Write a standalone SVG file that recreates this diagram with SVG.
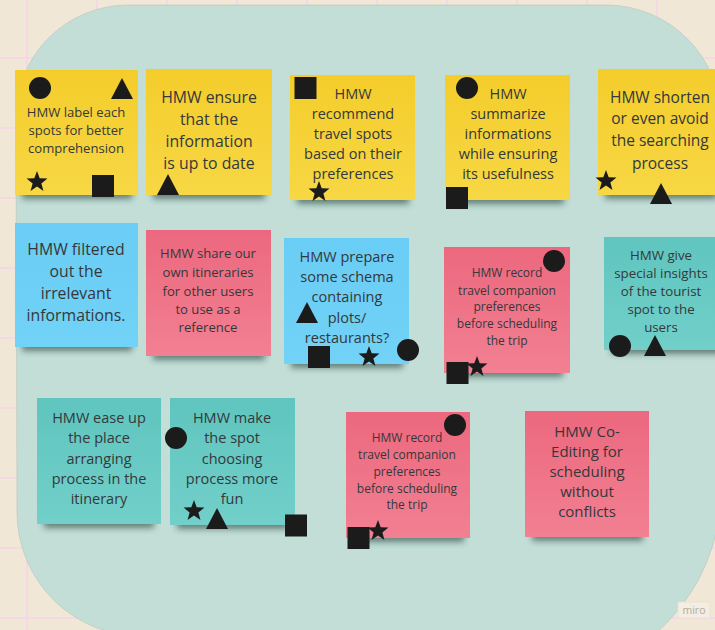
<svg xmlns="http://www.w3.org/2000/svg" xmlns:xlink="http://www.w3.org/1999/xlink" width="715" height="630" viewBox="0 0 715 630">
<style>
  .grid { stroke: #f7d3ea; stroke-width: 1.5; }
  .t { font-family: "Open Sans", "Liberation Sans", sans-serif; fill: #34383a; text-anchor: middle; }
  .s12 { font-size: 12px; }
  .s13 { font-size: 13.1px; }
  .s14 { font-size: 14.5px; }
  .s15 { font-size: 15px; }
  .s16 { font-size: 15.8px; }
  .sh { fill: #18302c; opacity: 0.55; filter: url(#blur); }
  .mk { fill: #1b1b1b; }
</style>
<defs>
  <filter id="blur" x="-20%" y="-100%" width="140%" height="300%">
    <feGaussianBlur stdDeviation="3"/>
  </filter>
  <linearGradient id="gy" x1="0" y1="0" x2="0" y2="1">
    <stop offset="0" stop-color="#f4cd2b"/><stop offset="1" stop-color="#f7d744"/>
  </linearGradient>
  <linearGradient id="gp" x1="0" y1="0" x2="0" y2="1">
    <stop offset="0" stop-color="#ec687e"/><stop offset="1" stop-color="#f28092"/>
  </linearGradient>
  <linearGradient id="gb" x1="0" y1="0" x2="0" y2="1">
    <stop offset="0" stop-color="#6acdf5"/><stop offset="1" stop-color="#72d2f7"/>
  </linearGradient>
  <linearGradient id="gt" x1="0" y1="0" x2="0" y2="1">
    <stop offset="0" stop-color="#5fc5be"/><stop offset="1" stop-color="#72cfca"/>
  </linearGradient>
  <circle id="dot" r="11" class="mk"/>
  <path id="tri" d="M0,-11 L11,10 L-11,10 Z" class="mk"/>
  <rect id="sq" x="-11" y="-11" width="22" height="22" class="mk"/>
  <path id="star" d="M0,-11 L2.7,-3.72 L10.46,-3.4 L4.37,1.42 L6.47,8.9 L0,4.6 L-6.47,8.9 L-4.37,1.42 L-10.46,-3.4 L-2.7,-3.72 Z" class="mk"/>
</defs>

<g id="background">
  <rect x="0" y="0" width="715" height="630" fill="#f1e7d6"/>
  <g class="grid">
    <line x1="27" y1="0" x2="27" y2="630"/><line x1="97" y1="0" x2="97" y2="630"/>
    <line x1="167" y1="0" x2="167" y2="630"/><line x1="237" y1="0" x2="237" y2="630"/>
    <line x1="307" y1="0" x2="307" y2="630"/><line x1="377" y1="0" x2="377" y2="630"/>
    <line x1="447" y1="0" x2="447" y2="630"/><line x1="517" y1="0" x2="517" y2="630"/>
    <line x1="587" y1="0" x2="587" y2="630"/><line x1="657" y1="0" x2="657" y2="630"/>
    <line x1="0" y1="58" x2="715" y2="58"/><line x1="0" y1="128" x2="715" y2="128"/>
    <line x1="0" y1="198" x2="715" y2="198"/><line x1="0" y1="268" x2="715" y2="268"/>
    <line x1="0" y1="338" x2="715" y2="338"/><line x1="0" y1="408" x2="715" y2="408"/>
    <line x1="0" y1="478" x2="715" y2="478"/><line x1="0" y1="548" x2="715" y2="548"/>
    <line x1="0" y1="618" x2="715" y2="618"/>
  </g>
  <path d="M128,5 L607,5 A115,115 0 0 1 721,120 L721,490 A190,190 0 0 1 531,680 L141,680 L141,636 A124,124 0 0 1 17,512 L16,117 A112,112 0 0 1 128,5 Z" fill="#c2ded7" stroke="#b5c4bb" stroke-width="0.6"/>
  <rect x="140" y="600" width="420" height="40" fill="#c2ded7"/>
</g>

<g id="note-1">
  <rect class="sh" x="22" y="185" width="110" height="14"/>
  <rect x="15" y="70" width="123" height="125" fill="url(#gy)"/>
  <text class="t s13"><tspan x="76" y="116.5">HMW label each</tspan><tspan x="76" y="135">spots for better</tspan><tspan x="76" y="153">comprehension</tspan></text>
  <use href="#dot" x="40" y="88"/><use href="#tri" x="122" y="89"/><use href="#star" x="37" y="182"/><use href="#sq" x="103" y="186"/>
</g>

<g id="note-2">
  <rect class="sh" x="153" y="185" width="112" height="14"/>
  <rect x="146" y="69" width="126" height="126" fill="url(#gy)"/>
  <text class="t s16"><tspan x="209" y="103">HMW ensure</tspan><tspan x="209" y="125">that the</tspan><tspan x="209" y="147">information</tspan><tspan x="209" y="169">is up to date</tspan></text>
  <use href="#tri" x="168" y="185"/>
</g>

<g id="note-3">
  <rect class="sh" x="297" y="190" width="112" height="14"/>
  <rect x="290" y="75" width="125" height="125" fill="url(#gy)"/>
  <text class="t s14"><tspan x="353" y="99">HMW</tspan><tspan x="353" y="119">recommend</tspan><tspan x="353" y="139">travel spots</tspan><tspan x="353" y="159">based on their</tspan><tspan x="353" y="179">preferences</tspan></text>
  <use href="#sq" x="305.5" y="88"/><use href="#star" x="319" y="192"/>
</g>

<g id="note-4">
  <rect class="sh" x="452" y="190" width="112" height="14"/>
  <rect x="445" y="75" width="125" height="125" fill="url(#gy)"/>
  <text class="t s14"><tspan x="508" y="99">HMW</tspan><tspan x="508" y="119">summarize</tspan><tspan x="508" y="139">informations</tspan><tspan x="508" y="159">while ensuring</tspan><tspan x="508" y="179">its usefulness</tspan></text>
  <use href="#dot" x="467" y="88"/><use href="#sq" x="457" y="198"/>
</g>

<g id="note-5">
  <rect class="sh" x="605" y="185" width="112" height="14"/>
  <rect x="598" y="69" width="126" height="126" fill="url(#gy)"/>
  <text class="t" style="font-size:15.5px"><tspan x="660" y="102.5">HMW shorten</tspan><tspan x="660" y="124">or even avoid</tspan><tspan x="660" y="146">the searching</tspan><tspan x="660" y="168.5">process</tspan></text>
  <use href="#star" x="606" y="181"/><use href="#tri" x="661" y="194"/>
</g>

<g id="note-6">
  <rect class="sh" x="22" y="337" width="110" height="14"/>
  <rect x="15" y="223" width="123" height="124" fill="url(#gb)"/>
  <text class="t s16"><tspan x="76" y="255">HMW filtered</tspan><tspan x="76" y="277">out the</tspan><tspan x="76" y="299">irrelevant</tspan><tspan x="76" y="321">informations.</tspan></text>
</g>

<g id="note-7">
  <rect class="sh" x="153" y="346" width="112" height="14"/>
  <rect x="146" y="230" width="125" height="126" fill="url(#gp)"/>
  <text class="t s13"><tspan x="208" y="258">HMW share our</tspan><tspan x="208" y="277">own itineraries</tspan><tspan x="208" y="295.5">for other users</tspan><tspan x="208" y="314">to use as a</tspan><tspan x="208" y="332">reference</tspan></text>
</g>

<g id="note-8">
  <rect class="sh" x="291" y="354" width="112" height="14"/>
  <rect x="284" y="238" width="125" height="126" fill="url(#gb)"/>
  <text class="t s14"><tspan x="347" y="262">HMW prepare</tspan><tspan x="347" y="282">some schema</tspan><tspan x="347" y="302">containing</tspan><tspan x="347" y="323">plots/</tspan><tspan x="347" y="343">restaurants?</tspan></text>
  <use href="#tri" x="307" y="313"/><use href="#sq" x="319" y="357"/><use href="#star" x="369" y="357"/><use href="#dot" x="408" y="350"/>
</g>

<g id="note-9">
  <rect class="sh" x="451" y="363" width="112" height="14"/>
  <rect x="444" y="247" width="126" height="126" fill="url(#gp)"/>
  <text class="t s12"><tspan x="507" y="277">HMW record</tspan><tspan x="507" y="294.5">travel companion</tspan><tspan x="507" y="311">preferences</tspan><tspan x="507" y="328">before scheduling</tspan><tspan x="507" y="345">the trip</tspan></text>
  <use href="#dot" x="554" y="261"/><use href="#sq" x="457.5" y="373"/><use href="#star" x="477" y="367"/>
</g>

<g id="note-10">
  <rect class="sh" x="611" y="340" width="112" height="14"/>
  <rect x="604" y="237" width="126" height="113" fill="url(#gt)"/>
  <text class="t" style="font-size:13.3px"><tspan x="661" y="260">HMW give</tspan><tspan x="661" y="278">special insights</tspan><tspan x="661" y="296">of the tourist</tspan><tspan x="661" y="314">spot to the</tspan><tspan x="661" y="332">users</tspan></text>
  <use href="#dot" x="620" y="346"/><use href="#tri" x="655" y="346"/>
</g>

<g id="note-11">
  <rect class="sh" x="44" y="514" width="110" height="14"/>
  <rect x="37" y="398" width="124" height="126" fill="url(#gt)"/>
  <text class="t s14"><tspan x="99" y="423">HMW ease up</tspan><tspan x="99" y="443">the place</tspan><tspan x="99" y="464">arranging</tspan><tspan x="99" y="484">process in the</tspan><tspan x="99" y="504">itinerary</tspan></text>
</g>

<g id="note-12">
  <rect class="sh" x="177" y="515" width="111" height="14"/>
  <rect x="170" y="398" width="125" height="127" fill="url(#gt)"/>
  <text class="t s14"><tspan x="232" y="423">HMW make</tspan><tspan x="232" y="443">the spot</tspan><tspan x="232" y="464">choosing</tspan><tspan x="232" y="484">process more</tspan><tspan x="232" y="504">fun</tspan></text>
  <use href="#dot" x="176" y="438"/><use href="#star" x="194" y="511"/><use href="#tri" x="217" y="519"/><use href="#sq" x="296" y="525.5"/>
</g>

<g id="note-13">
  <rect class="sh" x="353" y="528" width="111" height="14"/>
  <rect x="346" y="412" width="124" height="126" fill="url(#gp)"/>
  <text class="t s12"><tspan x="407" y="442">HMW record</tspan><tspan x="407" y="459">travel companion</tspan><tspan x="407" y="476">preferences</tspan><tspan x="407" y="492.5">before scheduling</tspan><tspan x="407" y="509">the trip</tspan></text>
  <use href="#dot" x="455" y="425"/><use href="#sq" x="358.5" y="538"/><use href="#star" x="378" y="531"/>
</g>

<g id="note-14">
  <rect class="sh" x="532" y="527" width="111" height="14"/>
  <rect x="525" y="411" width="124" height="126" fill="url(#gp)"/>
  <text class="t s15"><tspan x="587" y="437">HMW Co-</tspan><tspan x="587" y="457">Editing for</tspan><tspan x="587" y="477">scheduling</tspan><tspan x="587" y="497">without</tspan><tspan x="587" y="517">conflicts</tspan></text>
</g>

<g id="miro-logo">
  <rect x="678" y="602" width="32" height="16" rx="1.5" fill="#f4ede1" stroke="#e9e1d3" stroke-width="0.8"/>
  <text x="694" y="614" style="font-family:'Open Sans','Liberation Sans',sans-serif;font-size:10.5px;fill:#b3aca3;text-anchor:middle">miro</text>
</g>
</svg>
